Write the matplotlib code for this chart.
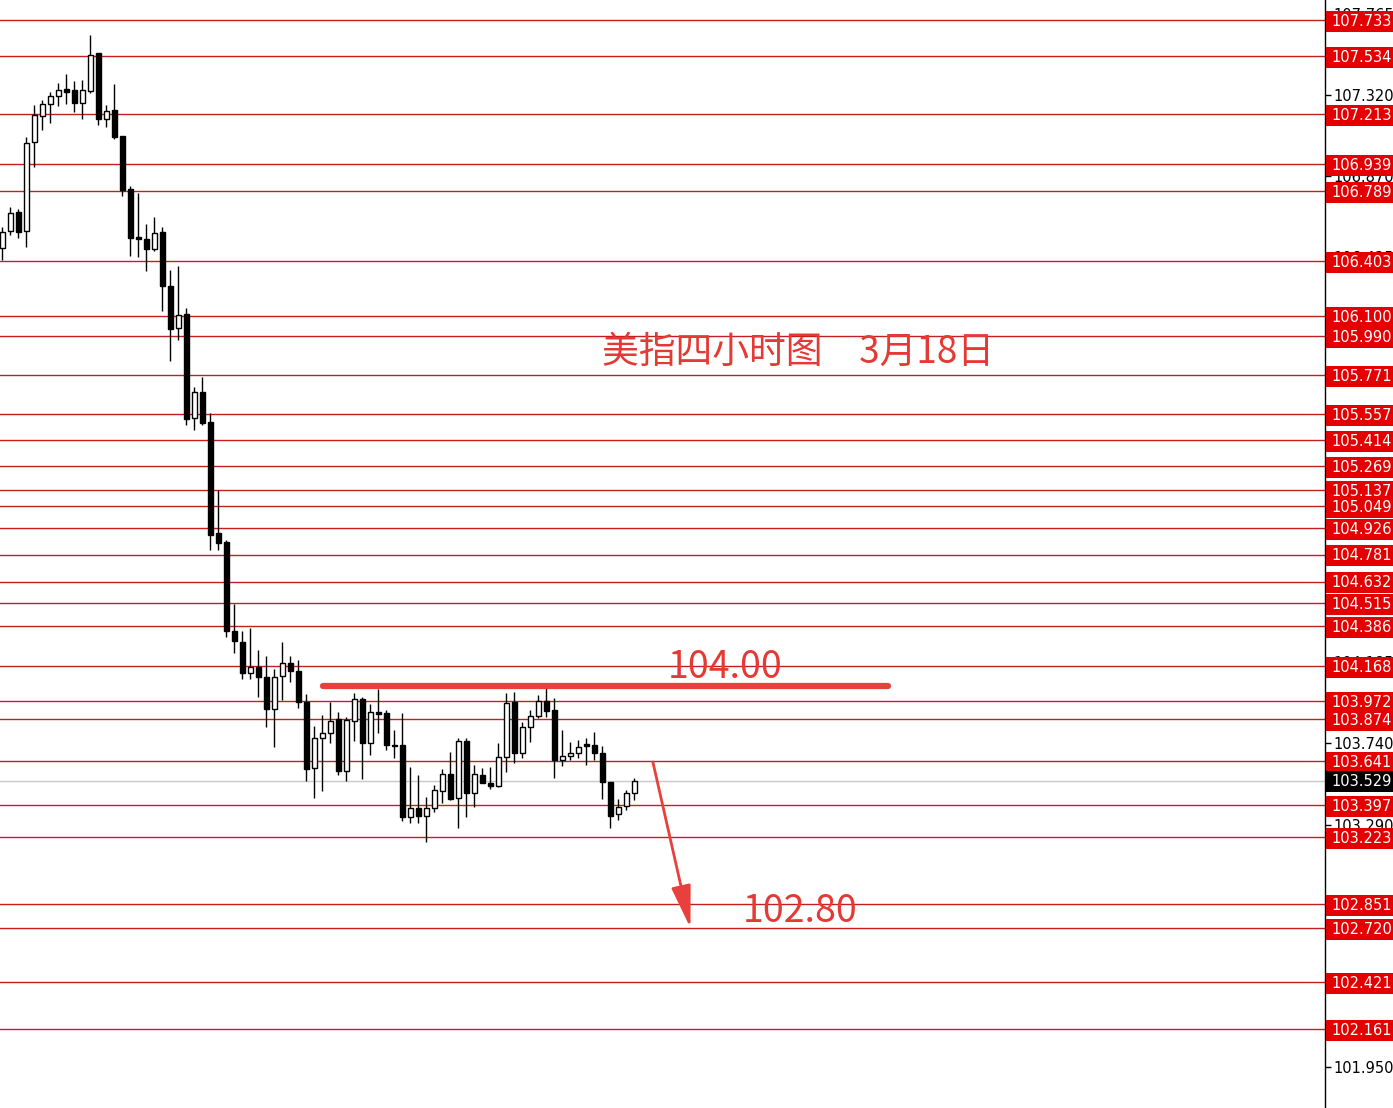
import numpy as np
import matplotlib
matplotlib.use("Agg")
import matplotlib.pyplot as plt
from matplotlib.patches import Rectangle
from matplotlib.transforms import blended_transform_factory

# ---------------- data ----------------
opens = [106.474, 106.570, 106.673, 106.566, 107.058, 107.201, 107.269, 107.313, 107.350, 107.345,
         107.276, 107.339, 107.549, 107.185, 107.234, 107.092, 106.798, 106.532, 106.522, 106.470,
         106.562, 106.264, 106.034, 106.108, 105.534, 105.677, 105.515, 104.900, 104.850, 104.359,
         104.297, 104.125, 104.162, 104.107, 103.930, 104.111, 104.184, 104.140, 103.967, 103.601,
         103.767, 103.794, 103.873, 103.588, 103.864, 103.982, 103.739, 103.910, 103.908, 103.730,
         103.730, 103.334, 103.380, 103.339, 103.380, 103.477, 103.568, 103.435, 103.752, 103.466,
         103.562, 103.518, 103.505, 103.662, 103.965, 103.687, 103.827, 103.891, 103.972, 103.923,
         103.647, 103.669, 103.687, 103.735, 103.728, 103.684, 103.527, 103.347, 103.393, 103.463]
closes = [106.562, 106.669, 106.564, 107.055, 107.207, 107.268, 107.312, 107.348, 107.337, 107.276,
          107.345, 107.538, 107.185, 107.232, 107.089, 106.794, 106.528, 106.524, 106.470, 106.555,
          106.266, 106.028, 106.104, 105.528, 105.677, 105.509, 104.889, 104.843, 104.361, 104.305,
          104.125, 104.162, 104.107, 103.930, 104.107, 104.184, 104.140, 103.965, 103.595, 103.767,
          103.794, 103.862, 103.588, 103.868, 103.982, 103.739, 103.910, 103.901, 103.730, 103.724,
          103.334, 103.380, 103.339, 103.380, 103.481, 103.568, 103.431, 103.752, 103.466, 103.568,
          103.518, 103.503, 103.662, 103.960, 103.687, 103.827, 103.891, 103.972, 103.919, 103.647,
          103.671, 103.684, 103.720, 103.724, 103.687, 103.527, 103.339, 103.389, 103.463, 103.529]
highs = [106.590, 106.699, 106.688, 107.089, 107.262, 107.291, 107.337, 107.383, 107.435, 107.396,
         107.402, 107.650, 107.551, 107.262, 107.380, 107.092, 106.816, 106.779, 106.607, 106.644,
         106.592, 106.353, 106.375, 106.141, 105.708, 105.760, 105.561, 105.138, 104.862, 104.508,
         104.361, 104.377, 104.254, 104.221, 104.148, 104.300, 104.221, 104.199, 104.011, 103.834,
         103.895, 103.965, 103.910, 103.886, 104.018, 103.996, 103.956, 104.037, 103.923, 103.812,
         103.905, 103.606, 103.564, 103.444, 103.509, 103.597, 103.693, 103.767, 103.767, 103.619,
         103.601, 103.606, 103.742, 104.015, 104.024, 103.858, 103.923, 104.006, 104.070, 103.987,
         103.812, 103.748, 103.757, 103.767, 103.800, 103.724, 103.527, 103.431, 103.481, 103.546]
lows = [106.408, 106.546, 106.528, 106.481, 106.923, 107.126, 107.163, 107.258, 107.269, 107.225,
        107.185, 107.328, 107.153, 107.144, 107.078, 106.763, 106.430, 106.426, 106.349, 106.459,
        106.128, 105.852, 105.966, 105.497, 105.469, 105.497, 104.806, 104.806, 104.324, 104.239,
        104.092, 104.092, 103.993, 103.827, 103.720, 103.978, 104.079, 103.932, 103.531, 103.435,
        103.477, 103.742, 103.564, 103.532, 103.753, 103.540, 103.674, 103.798, 103.702, 103.656,
        103.312, 103.301, 103.301, 103.196, 103.361, 103.411, 103.426, 103.273, 103.330, 103.389,
        103.518, 103.487, 103.500, 103.582, 103.632, 103.656, 103.748, 103.877, 103.886, 103.546,
        103.614, 103.647, 103.656, 103.619, 103.647, 103.430, 103.270, 103.315, 103.371, 103.426]

levels = [107.733, 107.534, 107.213, 106.939, 106.789, 106.403, 106.100, 105.990, 105.771,
          105.557, 105.414, 105.269, 105.137, 105.049, 104.926, 104.781, 104.632, 104.515,
          104.386, 104.168, 103.972, 103.874, 103.641, 103.397, 103.223, 102.851, 102.720,
          102.421, 102.161]
axis_ticks = [107.765, 107.320, 106.870, 106.425, 105.980, 105.535, 105.085, 104.640,
              104.185, 103.740, 103.290, 102.845, 102.395, 101.950]
current_price = 103.529

title_text = "美指四小时图\u30003月18日"
resist_label = "104.00"
target_label = "102.80"
resist_level = 104.055
resist_span = (40.1, 110.7)
arrow_start = (81.3, 103.636)
arrow_end = (86.0, 102.719)

# ---------------- figure ----------------
W, H = 1393, 1108
fig = plt.figure(figsize=(W / 100, H / 100), dpi=100)
fig.patch.set_facecolor("white")
ax_w = 1325 / W
ax = fig.add_axes([0, 0, ax_w, 1])
ax.set_facecolor("white")

ax.set_xlim(-0.29, 165.3)
ax.set_ylim(101.725, 107.843)

o = np.array(opens); c = np.array(closes); h = np.array(highs); l = np.array(lows)
x = np.arange(len(o))
up = c >= o
bot = np.minimum(o, c)
ht = np.maximum(np.abs(c - o), 0.004)

# level lines
for lv in levels:
    ax.axhline(lv, color="#c41f1f", lw=1.0, zorder=1)
ax.axhline(current_price, color="#c8c8c8", lw=1.0, zorder=1)

# candles
ax.vlines(x, l, h, color="black", lw=1.0, zorder=3)
ax.bar(x[up], ht[up], bottom=bot[up], width=0.62, color="white",
       edgecolor="black", linewidth=1.0, zorder=4)
ax.bar(x[~up], ht[~up], bottom=bot[~up], width=0.62, color="black",
       edgecolor="black", linewidth=1.0, zorder=4)

# axes styling
for s in ["left", "top", "bottom"]:
    ax.spines[s].set_visible(False)
ax.spines["right"].set_color("black")
ax.spines["right"].set_linewidth(1.0)
ax.set_xticks([])
ax.yaxis.tick_right()
ax.set_yticks(axis_ticks)
ax.set_yticklabels([f"{v:.3f}" for v in axis_ticks])
ax.tick_params(axis="y", direction="out", length=4, width=1, pad=2,
               labelsize=10.5, colors="black")

# red price labels on the right
tr = blended_transform_factory(ax.transAxes, ax.transData)
box_h = 21 / 181.1
x0 = 1.0008
x1 = (W / 1325)
for lv in levels:
    ax.add_patch(Rectangle((x0, lv - box_h / 2 - 0.008), x1 - x0, box_h, transform=tr,
                           facecolor="#e40000", edgecolor="none", clip_on=False, zorder=6))
    ax.text(1.0045, lv - 0.008, f"{lv:.3f}", transform=tr, color="white", fontsize=10.5,
            ha="left", va="center", clip_on=False, zorder=7)
ax.add_patch(Rectangle((x0, current_price - box_h / 2), x1 - x0, box_h, transform=tr,
                       facecolor="black", edgecolor="none", clip_on=False, zorder=6))
ax.text(1.0045, current_price, f"{current_price:.3f}", transform=tr, color="white",
        fontsize=10.5, ha="left", va="center", clip_on=False, zorder=7)

# annotations
red = "#e53935"
cjk = ["Noto Sans CJK SC", "DejaVu Sans"]
ax.text(798 / 1325, 1 - 352 / H, title_text, transform=ax.transAxes, color=red,
        fontsize=26.5, ha="center", va="center", family=cjk, zorder=8)
ax.plot(resist_span, [resist_level, resist_level], color="#e8403c", lw=4.5,
        solid_capstyle="round", zorder=5)
ax.text(725 / 1325, 1 - 667 / H, resist_label, transform=ax.transAxes, color=red,
        fontsize=27, ha="center", va="center", family=cjk, zorder=8)
ax.text(800 / 1325, 1 - 912 / H, target_label, transform=ax.transAxes, color=red,
        fontsize=27, ha="center", va="center", family=cjk, zorder=8)
ax.annotate("", xy=arrow_end, xytext=arrow_start,
            arrowprops=dict(arrowstyle="-|>,head_length=1.3,head_width=0.3",
                            color="#e8403c", lw=2.0, mutation_scale=20,
                            shrinkA=0, shrinkB=0), zorder=8)

fig.savefig("out.png", dpi=100, facecolor="white")
